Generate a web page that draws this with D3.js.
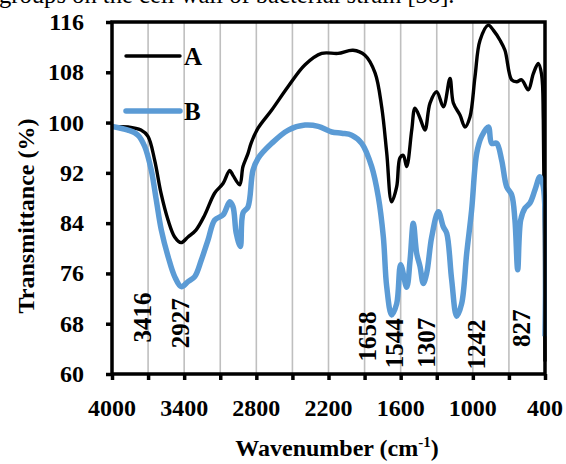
<!DOCTYPE html>
<html><head><meta charset="utf-8">
<script src="https://cdn.jsdelivr.net/npm/d3@7"></script>
<style>
html,body{margin:0;padding:0;background:#fff;}
svg{display:block;}
text{font-family:"Liberation Serif","Times New Roman",serif;}
</style></head>
<body>
<svg id="chart" width="566" height="464"></svg>
<script>
// ---- data ----
const wavenumberA = [4000,3867,3759,3701,3645,3593,3534,3479,3426,3368,3302,3229,3146,3077,3021,2994,2938,2911,2869,2844,2786,2672,2537,2395,2257,2121,1996,1897,1813,1758,1716,1675,1633,1606,1578,1550,1508,1481,1439,1398,1356,1300,1245,1190,1162,1107,1065,1024,982,940,871,830,774,733,677,635,594,539,497,456,428,414,400];
const transmittanceA = [99.3,99.3,98.8,97.8,94.0,88.8,84.5,81.8,80.9,81.8,82.9,85.3,88.8,90.3,92.4,91.6,90.1,93.0,95.1,96.7,99.1,102.0,105.7,109.2,111.0,111.0,111.5,110.7,107.9,102.5,95.2,87.4,89.8,94.4,94.8,93.0,98.8,102.3,100.7,98.8,103.1,104.9,102.5,107.0,103.1,101.2,99.3,100.9,107.3,113.1,115.5,114.7,113.1,111.5,106.8,106.5,106.8,105.2,107.8,109.4,107.6,100.4,62];
const wavenumberB = [4000,3867,3784,3728,3673,3632,3590,3534,3479,3424,3368,3312,3258,3202,3146,3077,3021,2994,2967,2933,2911,2869,2828,2786,2672,2534,2395,2285,2173,2090,2007,1924,1841,1786,1744,1716,1675,1633,1600,1550,1522,1495,1467,1439,1412,1384,1342,1287,1245,1217,1176,1134,1093,1051,1010,968,927,871,843,802,760,719,677,650,627,602,566,525,483,442,414,400];
const transmittanceB = [99.4,98.8,98.0,96.2,92.4,87.7,82.9,78.7,75.5,73.9,74.7,75.5,78.1,81.3,84.5,85.3,87.4,86.6,82.4,80.3,85.6,86.6,92.4,94.3,96.7,98.8,99.6,99.4,98.5,98.3,98.0,96.7,93.0,88.2,81.8,73.9,69.4,71.2,77.4,73.8,78.1,84.0,79.2,77.1,74.4,76.0,81.8,85.8,83.4,82.4,75.0,69.2,71.2,79.2,86.1,95.1,97.8,99.3,96.7,96.7,94.0,89.8,88.5,84.5,76.6,84.5,86.4,87.2,89.3,91.4,89.8,66];
const seriesNames = ["A","B"];
const seriesColors = ["#000000","#5b9bd5"];
const yTicks = [60,68,76,84,92,100,108,116];
const xTickLabels = [4000,3400,2800,2200,1600,1000,400];
const xGrid = [3700,3400,3100,2800,2500,2200,1900,1600,1300,1000,700];
const xMinorTicks = [4000,3700,3400,3100,2800,2500,2200,1900,1600,1300,1000,700,400];
const peakLabels = ["3416","2927","1658","1544","1307","1242","827"];
const peakLabelAt = [3742,3425,1875,1650,1385,967,593];
const peakLabelBottom = [65.0,64.1,62.0,60.9,61.0,60.7,64.3];

// ---- layout ----
const svg = d3.select("#chart");
const L = 112, R = 545, T = 22, B = 374;
const x = d3.scaleLinear().domain([4000,400]).range([L,R]);
const y = d3.scaleLinear().domain([60,116]).range([B,T]);

// top sentence (cut off by the top edge, as in the reference)
svg.append("text").attr("x",-1).attr("y",3).attr("font-size",24.6)
  .text("groups on the cell wall of bacterial strain [38].");

// grid
svg.append("g").selectAll("line").data(xGrid).join("line")
  .attr("x1",d=>x(d)).attr("x2",d=>x(d)).attr("y1",T).attr("y2",B)
  .attr("stroke","#bfbfbf").attr("stroke-width",1.6);

// clip
svg.append("clipPath").attr("id","clip").append("rect")
  .attr("x",L).attr("y",T-2).attr("width",R-L+2).attr("height",B-T+2);

const line = d3.line().x(d=>x(d[0])).y(d=>y(d[1])).curve(d3.curveCatmullRom.alpha(0.5));
const dataA = wavenumberA.map((w,i)=>[w,transmittanceA[i]]);
const dataB = wavenumberB.map((w,i)=>[w,transmittanceB[i]]);
const gLines = svg.append("g").attr("clip-path","url(#clip)");
gLines.append("path").datum(dataA).attr("d",line).attr("fill","none")
  .attr("stroke",seriesColors[0]).attr("stroke-width",3.4).attr("stroke-linejoin","round");
gLines.append("path").datum(dataB).attr("d",line).attr("fill","none")
  .attr("stroke",seriesColors[1]).attr("stroke-width",5.5).attr("stroke-linejoin","round");

// frame
svg.append("rect").attr("x",L).attr("y",T).attr("width",R-L).attr("height",B-T)
  .attr("fill","none").attr("stroke","#000").attr("stroke-width",3.5);

// x axis ticks
const xAxis = d3.axisBottom(x).tickValues(xMinorTicks).tickSize(6).tickFormat("");
const gx = svg.append("g").attr("transform",`translate(0,${B})`).call(xAxis);
gx.select(".domain").remove();
gx.selectAll(".tick line").attr("stroke","#000").attr("stroke-width",3.5);
svg.append("g").selectAll("text").data(xTickLabels).join("text")
  .attr("x",d=>x(d)).attr("y",416).attr("text-anchor","middle")
  .attr("font-size",24).attr("font-weight","bold").text(d=>d);

// y axis ticks
const yAxis = d3.axisLeft(y).tickValues(yTicks).tickSize(6).tickFormat("");
const gy = svg.append("g").attr("transform",`translate(${L},0)`).call(yAxis);
gy.select(".domain").remove();
gy.selectAll(".tick line").attr("stroke","#000").attr("stroke-width",3.5);
svg.append("g").selectAll("text").data(yTicks).join("text")
  .attr("x",84).attr("y",d=>y(d)+8).attr("text-anchor","end")
  .attr("font-size",24).attr("font-weight","bold").text(d=>d);

// peak labels
svg.append("g").selectAll("text").data(peakLabels).join("text")
  .attr("transform",(d,i)=>`translate(${x(peakLabelAt[i])+8},${y(peakLabelBottom[i])}) rotate(-90)`)
  .attr("font-size",25).attr("font-weight","bold").text(d=>d);

// axis titles
svg.append("text").attr("x",337).attr("y",456).attr("text-anchor","middle")
  .attr("font-size",24).attr("font-weight","bold")
  .call(t=>{t.append("tspan").text("Wavenumber (cm");
    t.append("tspan").attr("font-size",15).attr("dy",-9).text("-1");
    t.append("tspan").attr("dy",9).text(")");});
svg.append("text").attr("transform","translate(34,216) rotate(-90)").attr("text-anchor","middle")
  .attr("font-size",24).attr("font-weight","bold").text("Transmittance (%)");

// legend
const lg = svg.append("g");
seriesNames.forEach((n,i)=>{
  const ly = i===0 ? 56 : 111;
  lg.append("line").attr("x1",126).attr("x2",180).attr("y1",ly).attr("y2",ly)
    .attr("stroke",seriesColors[i]).attr("stroke-width",i===0?3.4:5.5).attr("stroke-linecap","round");
  lg.append("text").attr("x",184).attr("y",ly+9).attr("font-size",25).attr("font-weight","bold").text(n);
});
</script>
</body></html>
